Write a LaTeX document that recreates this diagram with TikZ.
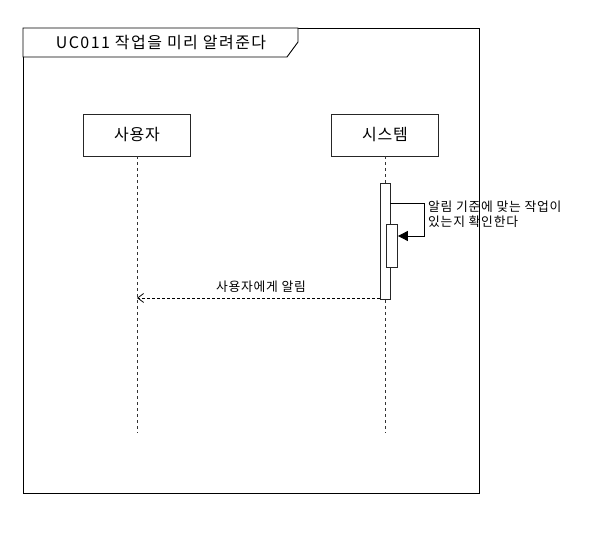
\documentclass[tikz,border=0pt]{standalone}
\usepackage{fontspec}
\setmainfont{Noto Sans CJK KR}
\newfontfamily\titlefont[LetterSpace=9]{Noto Sans CJK KR}
\newfontfamily\labelfont[LetterSpace=6]{Noto Sans CJK KR}
\newfontfamily\boxfont[LetterSpace=5]{Noto Sans CJK KR}
\usetikzlibrary{arrows.meta}
\begin{document}
\begin{tikzpicture}[x=1pt,y=-1pt,
  lifebox/.style={draw=black!85,line width=0.9pt,fill=white,minimum width=107pt,minimum height=42pt,inner sep=0pt,font=\boxfont\fontsize{16}{18}\selectfont},
  lifeline/.style={draw=black!80,dashed,dash pattern=on 3pt off 3pt,line width=0.8pt},
  actbar/.style={draw=black!85,fill=white,line width=0.8pt},
  msglabel/.style={font=\labelfont\fontsize{12.8}{14.5}\selectfont,inner sep=0pt}]
\useasboundingbox (0,0) rectangle (595,537);
% frame
\draw[line width=0.9pt] (23,28) rectangle (479,493);
\draw[line width=0.9pt,fill=white] (23,28) -- (298,28) -- (298,42) -- (287,57) -- (23,57) -- cycle;
\node[font=\titlefont\fontsize{16}{18}\selectfont,anchor=center] (title) at (161,43) {UC011 작업을 미리 알려준다};
% lifelines
\node[lifebox] (user) at (137,135) {사용자};
\node[lifebox] (sys) at (385,135) {시스템};
\coordinate (userend) at (137,433);
\coordinate (sysend) at (385,433);
\draw[lifeline] (user.south) -- (userend);
\draw[lifeline] (sys.south) -- (sysend);
% activations
\node[actbar,minimum width=10pt,minimum height=116pt,inner sep=0pt] (act1) at (385,241.5) {};
\node[actbar,minimum width=11pt,minimum height=43pt,inner sep=0pt] (act2) at (392,245.5) {};
% self message
\coordinate (s1) at (act1.east |- 0,203);
\coordinate (s2) at (424,203);
\coordinate (s3) at (424,236);
\coordinate (s4) at (act2.east |- 0,236);
\draw[line width=0.9pt,-{Triangle[length=10pt,width=10pt]}] (s1) -- (s2) -- (s3) -- (s4);
\node[msglabel,anchor=north west,align=left] (lbl1) at (428,201) {알림 기준에 맞는 작업이\\있는지 확인한다};
% return message
\coordinate (r1) at (act1.west |- 0,298);
\coordinate (r2) at (137,298);
\draw[line width=0.8pt,dashed,dash pattern=on 3pt off 2pt,-{Straight Barb[length=6pt,width=9pt]}] (r1) -- (r2);
\node[msglabel] (lbl2) at (261,287) {사용자에게 알림};
\end{tikzpicture}
\end{document}
